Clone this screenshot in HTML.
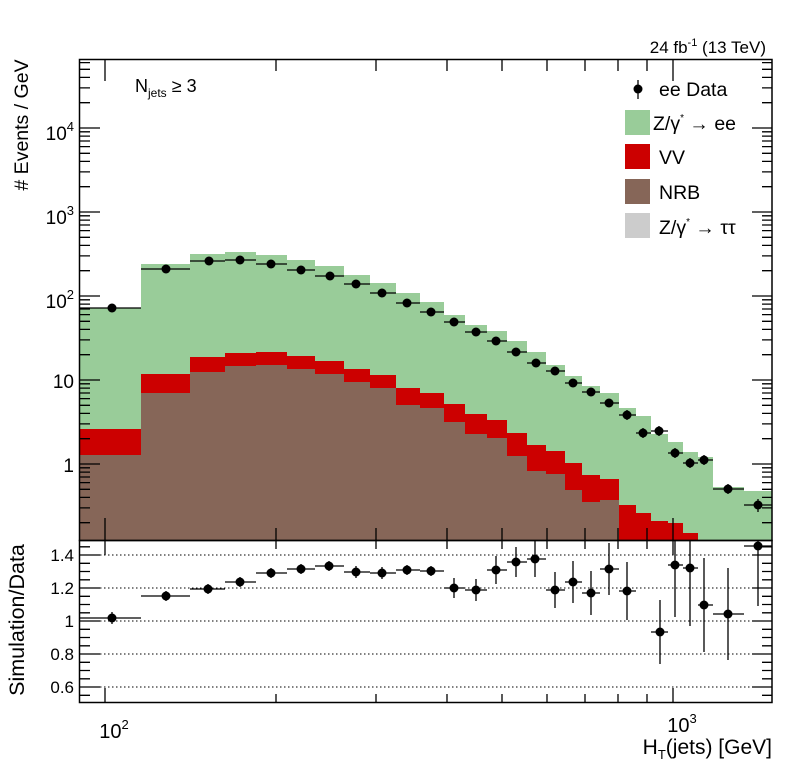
<!DOCTYPE html>
<html><head><meta charset="utf-8"><style>
body{margin:0;background:#fff;}
svg{display:block;font-family:"Liberation Sans",sans-serif;}
</style></head><body>
<svg width="796" height="772" viewBox="0 0 796 772" xmlns="http://www.w3.org/2000/svg">
<rect width="796" height="772" fill="#fff"/>
<path fill="#99cc99" d="M79,540 V308 H141 V264 H190 V254 H225 V252 H256 V255 H287 V260 H315 V266 H344 V275 H370 V283 H396 V293 H420 V302 H444 V315 H465 V325 H487 V331 H507 V341 H527 V352 H546 V365 H565 V376 H582 V386 H600 V393 H619 V408 H636 V416 H651 V434 H668 V442 H683 V452 H698 V457 H713 V487 H744 V491 H772 V540 Z"/>
<path fill="#cc0000" d="M79,540 V429 H141 V374 H190 V357 H225 V353 H256 V352 H287 V356 H315 V361 H344 V369 H370 V375 H396 V388 H420 V393 H444 V404 H465 V414 H487 V420 H507 V433 H527 V445 H546 V451 H565 V463 H582 V475 H600 V479 H619 V505 H636 V513 H651 V521 H668 V523 H683 V533 H698 V540 Z"/>
<path fill="#866658" d="M79,540 V455 H141 V393 H190 V372 H225 V366 H256 V365 H287 V369 H315 V374 H344 V382 H370 V388 H396 V405 H420 V408 H444 V422 H465 V434 H487 V438 H507 V456 H527 V471 H546 V474 H565 V490 H582 V502 H600 V500 H619 V540 Z"/>
<g stroke="#000" stroke-width="1" stroke-dasharray="1.5,2.5">
<line x1="80" x2="772" y1="555" y2="555"/><line x1="80" x2="772" y1="588" y2="588"/><line x1="80" x2="772" y1="621" y2="621"/><line x1="80" x2="772" y1="654" y2="654"/><line x1="80" x2="772" y1="687" y2="687"/>
</g>
<path fill="none" stroke="#000" stroke-width="1.3" d="
M79,308H141M112,304V312 M141,269H190M166,265V273 M190,261H225M209,257V265 M225,260H256M240,256V264 M256,264H287M271,260V268 M287,270H315M301,266V274 M315,276H344M330,272V280 M344,284H370M356,280V288 M370,293H396M382,289V297 M396,303H420M407,299V307 M420,312H444M431,308V316 M444,322H465M454,318V326 M465,332H487M476,328V336 M487,341H507M496,337V345 M507,352H527M516,348V356 M527,363H546M536,359V367 M546,371H565M555,367V375 M565,383H582M573,379V387 M582,392H600M591,388V396 M600,403H619M609,399V407 M619,415H636M627,410V420 M636,433H651M643,428V438 M651,431H668M659,426V436 M668,453H683M675,448V458 M683,463H698M690,458V468 M698,460H713M704,455V465 M713,489H744M728,484V494 M744,505H772M758,499V512
M79,618H141M112,612V624 M141,596H190M166,591V601 M190,589H225M208,584V594 M225,582H256M240,577V587 M256,573H287M271,568V578 M287,569H315M301,564V574 M315,566H344M329,561V571 M344,572H370M356,566V578 M370,573H396M382,567V579 M396,570H420M407,565V575 M420,571H444M431,566V576 M444,588H465M454,578V598 M465,590H487M476,579V601 M487,570H507M496,556V584 M507,562H527M516,547V577 M527,559H546M535,541V577 M546,590H565M555,572V608 M565,582H582M573,561V603 M582,593H600M591,571V615 M600,569H619M609,543V595 M619,591H636M627,562V620 M651,632H668M660,600V664 M668,565H683M675,541V617 M683,568H698M690,541V626 M698,605H713M704,558V652 M713,614H744M728,568V660 M744,546H772M758,541V606"/>
<g fill="#000">
<circle cx="112" cy="308" r="4.5"/><circle cx="166" cy="269" r="4.5"/><circle cx="209" cy="261" r="4.5"/><circle cx="240" cy="260" r="4.5"/><circle cx="271" cy="264" r="4.5"/><circle cx="301" cy="270" r="4.5"/><circle cx="330" cy="276" r="4.5"/><circle cx="356" cy="284" r="4.5"/><circle cx="382" cy="293" r="4.5"/><circle cx="407" cy="303" r="4.5"/><circle cx="431" cy="312" r="4.5"/><circle cx="454" cy="322" r="4.5"/><circle cx="476" cy="332" r="4.5"/><circle cx="496" cy="341" r="4.5"/><circle cx="516" cy="352" r="4.5"/><circle cx="536" cy="363" r="4.5"/><circle cx="555" cy="371" r="4.5"/><circle cx="573" cy="383" r="4.5"/><circle cx="591" cy="392" r="4.5"/><circle cx="609" cy="403" r="4.5"/><circle cx="627" cy="415" r="4.5"/><circle cx="643" cy="433" r="4.5"/><circle cx="659" cy="431" r="4.5"/><circle cx="675" cy="453" r="4.5"/><circle cx="690" cy="463" r="4.5"/><circle cx="704" cy="460" r="4.5"/><circle cx="728" cy="489" r="4.5"/><circle cx="758" cy="505" r="4.5"/>
<circle cx="112" cy="618" r="4.5"/><circle cx="166" cy="596" r="4.5"/><circle cx="208" cy="589" r="4.5"/><circle cx="240" cy="582" r="4.5"/><circle cx="271" cy="573" r="4.5"/><circle cx="301" cy="569" r="4.5"/><circle cx="329" cy="566" r="4.5"/><circle cx="356" cy="572" r="4.5"/><circle cx="382" cy="573" r="4.5"/><circle cx="407" cy="570" r="4.5"/><circle cx="431" cy="571" r="4.5"/><circle cx="454" cy="588" r="4.5"/><circle cx="476" cy="590" r="4.5"/><circle cx="496" cy="570" r="4.5"/><circle cx="516" cy="562" r="4.5"/><circle cx="535" cy="559" r="4.5"/><circle cx="555" cy="590" r="4.5"/><circle cx="573" cy="582" r="4.5"/><circle cx="591" cy="593" r="4.5"/><circle cx="609" cy="569" r="4.5"/><circle cx="627" cy="591" r="4.5"/><circle cx="660" cy="632" r="4.5"/><circle cx="675" cy="565" r="4.5"/><circle cx="690" cy="568" r="4.5"/><circle cx="704" cy="605" r="4.5"/><circle cx="728" cy="614" r="4.5"/><circle cx="758" cy="546" r="4.5"/>
</g>
<path fill="none" stroke="#000" stroke-width="1.3" d="
M80,464h20M80,380h20M80,296h20M80,212h20M80,128h20
M772,464h-20M772,380h-20M772,296h-20M772,212h-20M772,128h-20
M80,522.7h10M80,507.9h10M80,497.4h10M80,489.3h10M80,482.6h10M80,477h10M80,472.1h10M80,467.8h10
M80,438.7h10M80,423.9h10M80,413.4h10M80,405.3h10M80,398.6h10M80,393h10M80,388.1h10M80,383.8h10
M80,354.7h10M80,339.9h10M80,329.4h10M80,321.3h10M80,314.6h10M80,309h10M80,304.1h10M80,299.8h10
M80,270.7h10M80,255.9h10M80,245.4h10M80,237.3h10M80,230.6h10M80,225h10M80,220.1h10M80,215.8h10
M80,186.7h10M80,171.9h10M80,161.4h10M80,153.3h10M80,146.6h10M80,141h10M80,136.1h10M80,131.8h10
M80,102.7h10M80,87.9h10M80,77.4h10M80,69.3h10M80,62.6h10
M772,522.7h-10M772,507.9h-10M772,497.4h-10M772,489.3h-10M772,482.6h-10M772,477h-10M772,472.1h-10M772,467.8h-10
M772,438.7h-10M772,423.9h-10M772,413.4h-10M772,405.3h-10M772,398.6h-10M772,393h-10M772,388.1h-10M772,383.8h-10
M772,354.7h-10M772,339.9h-10M772,329.4h-10M772,321.3h-10M772,314.6h-10M772,309h-10M772,304.1h-10M772,299.8h-10
M772,270.7h-10M772,255.9h-10M772,245.4h-10M772,237.3h-10M772,230.6h-10M772,225h-10M772,220.1h-10M772,215.8h-10
M772,186.7h-10M772,171.9h-10M772,161.4h-10M772,153.3h-10M772,146.6h-10M772,141h-10M772,136.1h-10M772,131.8h-10
M772,102.7h-10M772,87.9h-10M772,77.4h-10M772,69.3h-10M772,62.6h-10
M80,687h20M80,654h20M80,621h20M80,588h20M80,555h20
M772,687h-20M772,654h-20M772,621h-20M772,588h-20M772,555h-20
M80,695.3h10M80,678.8h10M80,670.5h10M80,662.3h10M80,645.8h10M80,637.5h10M80,629.3h10M80,612.8h10M80,604.5h10M80,596.3h10M80,579.8h10M80,571.5h10M80,563.3h10M80,546.8h10
M772,695.3h-10M772,678.8h-10M772,670.5h-10M772,662.3h-10M772,645.8h-10M772,637.5h-10M772,629.3h-10M772,612.8h-10M772,604.5h-10M772,596.3h-10M772,579.8h-10M772,571.5h-10M772,563.3h-10M772,546.8h-10
M105,540v-22M673,540v-22M105,59v22M673,59v22
M276,540v-12M376,540v-12M447,540v-12M502,540v-12M547,540v-12M585,540v-12M618,540v-12M647,540v-12
M276,59v12M376,59v12M447,59v12M502,59v12M547,59v12M585,59v12M618,59v12M647,59v12
M105,702v-14M673,702v-14M105,541v14M673,541v14
M276,702v-8M376,702v-8M447,702v-8M502,702v-8M547,702v-8M585,702v-8M618,702v-8M647,702v-8
M276,541v8M376,541v8M447,541v8M502,541v8M547,541v8M585,541v8M618,541v8M647,541v8"/>
<rect x="79.5" y="59.5" width="692.5" height="481" fill="none" stroke="#000" stroke-width="1.5"/>
<rect x="79.5" y="540.5" width="692.5" height="162" fill="none" stroke="#000" stroke-width="1.5"/>
<g font-size="19" text-anchor="end">
<text x="74" y="140">10<tspan font-size="13" dy="-9">4</tspan></text>
<text x="74" y="224">10<tspan font-size="13" dy="-9">3</tspan></text>
<text x="74" y="308">10<tspan font-size="13" dy="-9">2</tspan></text>
<text x="74" y="388">10</text>
<text x="74" y="472">1</text>
</g>
<g font-size="17" text-anchor="end">
<text x="74" y="561">1.4</text>
<text x="74" y="594">1.2</text>
<text x="74" y="627">1</text>
<text x="74" y="660">0.8</text>
<text x="74" y="693">0.6</text>
</g>
<g font-size="20" text-anchor="middle">
<text x="114" y="738">10<tspan font-size="13" dy="-9">2</tspan></text>
<text x="682" y="732">10<tspan font-size="13" dy="-9">3</tspan></text>
</g>
<text x="772" y="754" font-size="21" text-anchor="end">H<tspan font-size="13" dy="5">T</tspan><tspan dy="-5">(jets) [GeV]</tspan></text>
<text transform="translate(28,125) rotate(-90)" font-size="19.5" text-anchor="middle"># Events / GeV</text>
<text transform="translate(24,620) rotate(-90)" font-size="21.5" text-anchor="middle">Simulation/Data</text>
<text x="766" y="53" font-size="17" text-anchor="end">24 fb<tspan font-size="11" dy="-7">-1</tspan><tspan dy="7"> (13 TeV)</tspan></text>
<text x="135" y="92" font-size="18">N<tspan font-size="12" dy="5">jets</tspan><tspan dy="-5"> ≥ 3</tspan></text>
<g font-size="19.5">
<line x1="638" y1="80" x2="638" y2="99" stroke="#000" stroke-width="1.3"/>
<circle cx="638" cy="89" r="4.5" fill="#000"/>
<text x="659" y="96">ee Data</text>
<rect x="625" y="110" width="25" height="25" fill="#99cc99"/>
<text x="653" y="130">Z/γ<tspan font-size="10" dy="-9">*</tspan><tspan dy="9"> → ee</tspan></text>
<rect x="625" y="144" width="25" height="25" fill="#cc0000"/>
<text x="659" y="164">VV</text>
<rect x="625" y="179" width="25" height="25" fill="#866658"/>
<text x="659" y="199">NRB</text>
<rect x="625" y="213" width="25" height="25" fill="#cccccc"/>
<text x="659" y="234">Z/γ<tspan font-size="10" dy="-9">*</tspan><tspan dy="9"> → ττ</tspan></text>
</g>
</svg>
</body></html>
